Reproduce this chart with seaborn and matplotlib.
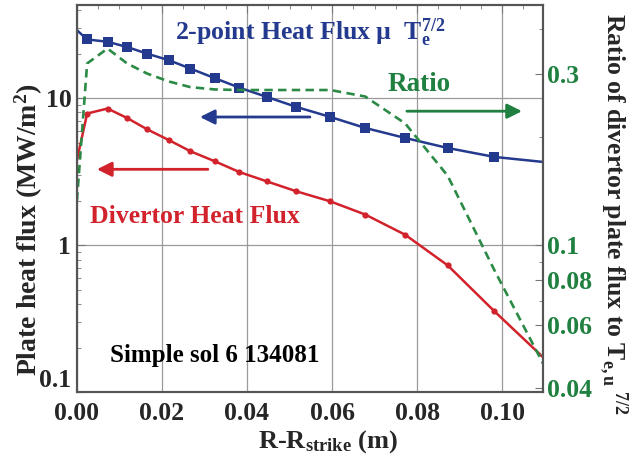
import matplotlib
matplotlib.use("Agg")
import matplotlib.pyplot as plt
import seaborn as sns
from matplotlib.ticker import FixedLocator, NullFormatter, MultipleLocator, LogLocator

# values
r_pos = [0.0, 0.0024, 0.0072, 0.0118, 0.0165, 0.0217, 0.0267, 0.0324, 0.0382,
         0.0447, 0.0516, 0.0596, 0.0678, 0.0772, 0.0872, 0.0982, 0.1096]
two_point = [29.0, 25.1, 24.2, 22.3, 20.1, 18.1, 15.9, 13.7, 11.8,
             10.2, 8.73, 7.46, 6.28, 5.37, 4.59, 3.99, 3.69]
divertor = [3.79, 7.87, 8.51, 7.34, 6.15, 5.18, 4.36, 3.73, 3.15,
            2.72, 2.33, 1.99, 1.62, 1.18, 0.731, 0.356, 0.174]
ratio = [0.133, 0.320, 0.352, 0.320, 0.300, 0.285, 0.275, 0.271, 0.270,
         0.270, 0.270, 0.270, 0.259, 0.218, 0.156, 0.0852, 0.047]

x_ticks = [0.00, 0.02, 0.04, 0.06, 0.08, 0.10]
left_ticks = [0.1, 1, 10]
right_ticks = [0.04, 0.06, 0.08, 0.1, 0.3]

blue = "#233a8e"
red = "#d2222b"
green = "#1f8040"

sns.set_style("white")
plt.rcParams['font.family'] = ['Liberation Serif', 'DejaVu Serif']
plt.rcParams['font.weight'] = 'bold'
plt.rcParams['axes.labelweight'] = 'bold'
plt.rcParams['mathtext.fontset'] = 'custom'
plt.rcParams['mathtext.rm'] = 'Liberation Serif:bold'
plt.rcParams['mathtext.it'] = 'Liberation Serif:bold'
plt.rcParams['mathtext.bf'] = 'Liberation Serif:bold'

fig = plt.figure(figsize=(6.41, 4.59), dpi=100)
ax = fig.add_axes([0.120, 0.145, 0.727, 0.844])

marks = list(range(1, len(r_pos) - 1))
sns.lineplot(x=r_pos, y=two_point, ax=ax, color=blue, lw=1.8, marker='s',
             markersize=6.5, markeredgewidth=0, markevery=marks)
sns.lineplot(x=r_pos, y=divertor, ax=ax, color=red, lw=1.8, marker='o',
             markersize=4.5, markeredgewidth=0, markevery=marks)

ax.set_yscale('log')
ax.set_xlim(0, 0.1096)
ax.set_ylim(0.1, 43)
ax.set_xticks(x_ticks)
ax.set_xticklabels([f"{v:.2f}" for v in x_ticks])
ax.xaxis.set_minor_locator(MultipleLocator(0.005))
ax.yaxis.set_major_locator(FixedLocator(left_ticks))
ax.set_yticklabels(["0.1", "1", "10"])
ax.yaxis.set_minor_locator(LogLocator(subs=range(2, 10)))
ax.yaxis.set_minor_formatter(NullFormatter())
ax.tick_params(axis='both', which='both', direction='in', top=True, right=False,
               labelsize=18.5, color='#777777')
ax.tick_params(which='major', length=6)
ax.tick_params(which='minor', length=3)
ax.tick_params(axis='x', pad=7)
ax.tick_params(axis='y', pad=4)
ax.get_yticklabels()[0].set_va('bottom')
ax.grid(True, which='major', color='#9a9a9a', lw=0.9)
for s in ax.spines.values():
    s.set_color('#555555')
    s.set_linewidth(1.5)

ax.set_xlabel(r"R-R$_{\mathbf{strike}}$ (m)", fontsize=19, labelpad=2)
ax.xaxis.label.set_x(0.539)
ax.set_ylabel(r"Plate heat flux (MW/m$^{\mathbf{2}}$)", fontsize=20)
ax.yaxis.set_label_coords(-0.068, 0.42)

# right axis for the ratio
ax2 = ax.twinx()
sns.lineplot(x=r_pos, y=ratio, ax=ax2, color="#2b8a45", lw=1.9, ls=(0, (3.2, 2.0)))
ax2.set_yscale('log')
ax2.set_ylim(0.039, 0.465)
ax2.yaxis.set_major_locator(FixedLocator(right_ticks))
ax2.set_yticklabels(["0.04", "0.06", "0.08", "0.1", "0.3"])
ax2.yaxis.set_minor_locator(FixedLocator([0.05, 0.07, 0.09, 0.2, 0.4]))
ax2.yaxis.set_minor_formatter(NullFormatter())
ax2.tick_params(axis='y', which='both', direction='in', labelsize=18.5, pad=3,
                labelcolor=green, color='#777777')
ax2.tick_params(which='major', length=6)
ax2.tick_params(which='minor', length=3)
for s in ax2.spines.values():
    s.set_color('#555555')
    s.set_linewidth(1.5)
ax2.set_ylabel(r"Ratio of divertor plate flux to T$_{\mathbf{e,u}}$$^{\mathbf{\ 7/2}}$",
               fontsize=18.5, rotation=-90, labelpad=27)
ax2.yaxis.label.set_y(0.46)

# annotations
ax.text(0.210, 0.910, r"2-point Heat Flux µ  T$_{\mathbf{e}}^{\mathbf{7/2}}$",
        transform=ax.transAxes, color=blue, fontsize=18.5, ha='left', va='baseline')
ax.text(0.667, 0.779, "Ratio", transform=ax.transAxes, color=green,
        fontsize=19.5, ha='left', va='baseline')
ax.text(0.028, 0.438, "Divertor Heat Flux", transform=ax.transAxes, color=red,
        fontsize=18.5, ha='left', va='baseline')
ax.text(0.071, 0.079, "Simple sol 6 134081", transform=ax.transAxes, color='black',
        fontsize=18, ha='left', va='baseline')

arrow = dict(arrowstyle='-|>', lw=2, mutation_scale=22, shrinkA=0, shrinkB=0)
ax.annotate("", xy=(0.264, 0.711), xytext=(0.500, 0.711), xycoords='axes fraction',
            arrowprops=dict(arrow, color=blue))
ax.annotate("", xy=(0.043, 0.576), xytext=(0.281, 0.576), xycoords='axes fraction',
            arrowprops=dict(arrow, color=red))
ax.annotate("", xy=(0.955, 0.726), xytext=(0.708, 0.726), xycoords='axes fraction',
            arrowprops=dict(arrow, color=green))

fig.savefig("out.png", dpi=100)
